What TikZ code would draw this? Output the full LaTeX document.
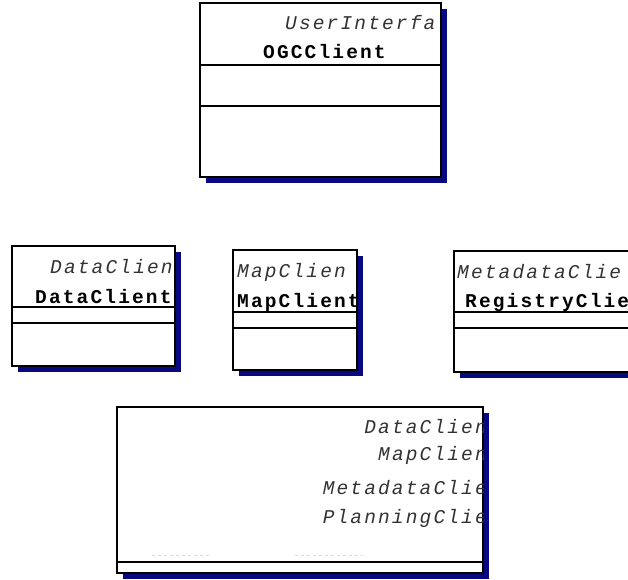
\documentclass[tikz,border=0pt]{standalone}
\usepackage{fontspec}
\usetikzlibrary{shadows}
\newfontfamily\umlfont{Liberation Mono}[LetterSpace=11]
\definecolor{shadowblue}{RGB}{8,8,128}

\begin{document}
\begin{tikzpicture}[x=1pt, y=-1pt, cls/.style={draw, fill=white, line width=1.1pt, inner sep=0pt, general shadow={fill=shadowblue, shadow xshift=6pt, shadow yshift=-6pt}}, stereo/.style={inner sep=0pt, font=\umlfont\fontsize{19.5}{19.5}\selectfont\itshape, text=black!80}, clsname/.style={inner sep=0pt, font=\umlfont\fontsize{19.5}{19.5}\selectfont\bfseries}, comp/.style={line width=1.1pt}]
    \useasboundingbox (0,0) rectangle (628,579);
    \clip (0,0) rectangle (628,579);

    \node[cls, minimum width=241pt, minimum height=174pt] (ogc) at (320.5,90) {};
    \node[cls, minimum width=163pt, minimum height=120pt] (data) at (93.5,306) {};
    \node[cls, minimum width=124pt, minimum height=120pt] (map) at (295,310) {};
    \node[cls, minimum width=190pt, minimum height=121pt] (reg) at (549,311.5) {};
    \node[cls, minimum width=366pt, minimum height=166pt] (plan) at (300,490) {};

    \draw[comp] (ogc.west |- 0,65) -- (ogc.east |- 0,65);
    \draw[comp] (ogc.west |- 0,106) -- (ogc.east |- 0,106);
    \draw[comp] (data.west |- 0,307) -- (data.east |- 0,307);
    \draw[comp] (data.west |- 0,323) -- (data.east |- 0,323);
    \draw[comp] (map.west |- 0,312) -- (map.east |- 0,312);
    \draw[comp] (map.west |- 0,328) -- (map.east |- 0,328);
    \draw[comp] (reg.west |- 0,312) -- (reg.east |- 0,312);
    \draw[comp] (reg.west |- 0,328) -- (reg.east |- 0,328);
    \draw[comp] (plan.west |- 0,562) -- (plan.east |- 0,562);
    \draw[black!15, dashed, line width=1pt] (152,555) -- (210,555);
    \draw[black!15, dashed, line width=1pt] (295,555) -- (363,555);

    \begin{scope}
        \clip (ogc.north west) rectangle (ogc.south east);
        \node[stereo, anchor=west] (ogcst) at (285,23) {UserInterfa};
        \node[clsname, anchor=west] (ogcnm) at (263,52) {OGCClient};
    \end{scope}
    \begin{scope}
        \clip (data.north west) rectangle (data.south east);
        \node[stereo, anchor=west] (datast) at (50,267) {DataClien};
        \node[clsname, anchor=west] (datanm) at (35,297) {DataClient};
    \end{scope}
    \begin{scope}
        \clip (map.north west) rectangle (map.south east);
        \node[stereo, anchor=west] (mapst) at (237,272) {MapClien};
        \node[clsname, anchor=west] (mapnm) at (237,302) {MapClient};
    \end{scope}
    \node[stereo, anchor=west] (regst) at (457,272) {MetadataClie};
    \node[clsname, anchor=west] (regnm) at (465,302) {RegistryClie};

    \begin{scope}
        \clip (plan.north west) rectangle (plan.south east);
        \node[stereo, anchor=east] (plan1) at (487,427) {DataClien};
        \node[stereo, anchor=east] (plan2) at (487,455) {MapClien};
        \node[stereo, anchor=east] (plan3) at (487,488) {MetadataClie};
        \node[stereo, anchor=east] (plan4) at (487,518) {PlanningClie};
    \end{scope}
\end{tikzpicture}
\end{document}
